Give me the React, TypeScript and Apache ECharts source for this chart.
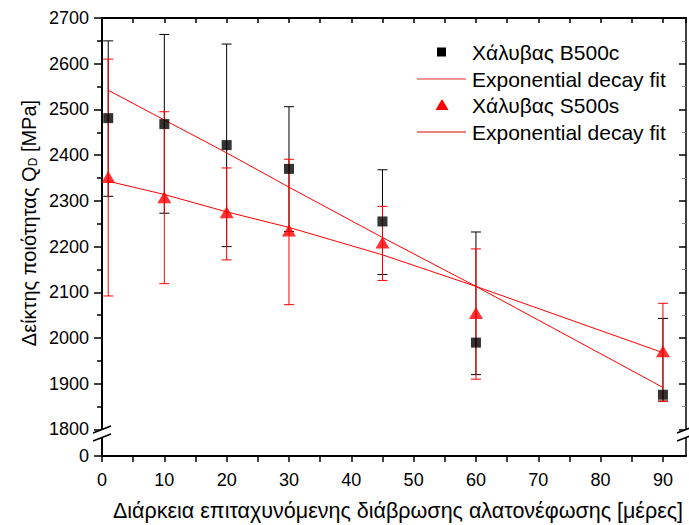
import React, { useEffect, useRef } from "react";
import * as echarts from "echarts";

const days = [1, 10, 20, 30, 45, 60, 90];
const b500c = [2481, 2468, 2422, 2370, 2255, 1990, 1876];
const b500cHigh = [2650, 2664, 2643, 2506, 2368, 2232, 2043];
const b500cLow = [2310, 2273, 2200, 2233, 2139, 1920, 1862];
const s500s = [2352, 2308, 2275, 2235, 2209, 2055, 1971];
const s500sHigh = [2610, 2495, 2372, 2391, 2288, 2195, 2076];
const s500sLow = [2092, 2119, 2171, 2073, 2126, 1910, 1862];
const fitB = [2542, 2477, 2405, 2330, 2220, 2113, 1892];
const fitS = [2343, 2314, 2276, 2242, 2182, 2113, 1968];

const yMajor = [1800, 1900, 2000, 2100, 2200, 2300, 2400, 2500, 2600, 2700];
const yMinor = [1850, 1950, 2050, 2150, 2250, 2350, 2450, 2550, 2650];
const yBreakValue = 1742; // position of the "0" label below the axis break

const FONT = "Liberation Sans, Arial, sans-serif";

const errRender = (color: string) => (params: any, api: any) => {
  const x = api.value(0);
  const lo = api.value(1);
  const hi = api.value(2);
  const pHi = api.coord([x, hi]);
  const pLo = api.coord([x, lo]);
  const w = 5;
  const st = { stroke: color, lineWidth: 1 };
  return {
    type: "group",
    children: [
      { type: "line", shape: { x1: pHi[0], y1: pHi[1], x2: pLo[0], y2: pLo[1] }, style: st },
      { type: "line", shape: { x1: pHi[0] - w, y1: pHi[1], x2: pHi[0] + w, y2: pHi[1] }, style: st },
      { type: "line", shape: { x1: pLo[0] - w, y1: pLo[1], x2: pLo[0] + w, y2: pLo[1] }, style: st },
    ],
  };
};

export default function App() {
  const ref = useRef<HTMLDivElement>(null);
  useEffect(() => {
    document.body.style.margin = "0";
    const chart = echarts.init(ref.current!, null, { renderer: "svg" });
    const xMin = 0;
    const xMax = 93.7;
    const yAxisBase = {
      type: "value",
      min: yBreakValue,
      max: 2700,
      splitLine: { show: false },
    };
    const xAxisBase = {
      type: "value",
      min: xMin,
      max: xMax,
      interval: 5,
      splitLine: { show: false },
    };
    const grid = { left: 102, right: 3, top: 18, bottom: 69 };
    const legendY = [52, 79, 105, 132];
    const option: any = {
      animation: false,
      textStyle: { fontFamily: FONT },
      grid,
      xAxis: [
        {
          ...xAxisBase,
          position: "bottom",
          axisLine: { lineStyle: { color: "#000", width: 2 } },
          axisTick: { show: true, length: 6, inside: false, lineStyle: { color: "#000", width: 1.5 } },
          axisLabel: {
            show: true,
            margin: 15,
            fontSize: 18,
            color: "#000",
            fontFamily: FONT,
            showMaxLabel: false,
            formatter: (v: number) => (v % 10 === 0 ? String(v) : ""),
          },
        },
        {
          ...xAxisBase,
          position: "top",
          axisLine: { lineStyle: { color: "#000", width: 2 } },
          axisTick: { show: true, length: 5, inside: true, lineStyle: { color: "#000", width: 1.5 } },
          axisLabel: { show: false },
        },
      ],
      yAxis: [
        {
          ...yAxisBase,
          position: "left",
          axisLine: { show: true, lineStyle: { color: "#000", width: 2 } },
          axisTick: {
            show: true,
            length: 8,
            inside: false,
            customValues: [yBreakValue, ...yMajor],
            lineStyle: { color: "#000", width: 1.5 },
          },
          axisLabel: {
            show: true,
            margin: 13,
            fontSize: 18,
            color: "#000",
            fontFamily: FONT,
            customValues: [yBreakValue, ...yMajor],
            formatter: (v: number) => (v === yBreakValue ? "0" : String(v)),
          },
        },
        {
          ...yAxisBase,
          position: "left",
          axisLine: { show: false },
          axisTick: {
            show: true,
            length: 5,
            inside: false,
            customValues: yMinor,
            lineStyle: { color: "#000", width: 1.5 },
          },
          axisLabel: { show: false },
        },
        {
          ...yAxisBase,
          position: "right",
          axisLine: { show: true, lineStyle: { color: "#000", width: 1.5 } },
          axisTick: {
            show: true,
            length: 7,
            inside: true,
            customValues: yMajor,
            lineStyle: { color: "#000", width: 1.5 },
          },
          axisLabel: { show: false },
        },
        {
          ...yAxisBase,
          position: "right",
          axisLine: { show: false },
          axisTick: {
            show: true,
            length: 4,
            inside: true,
            customValues: yMinor,
            lineStyle: { color: "#888", width: 1 },
          },
          axisLabel: { show: false },
        },
      ],
      series: [
        {
          type: "custom",
          name: "errB",
          renderItem: errRender("#000"),
          encode: { x: 0, y: [1, 2] },
          data: days.map((d, i) => [d, b500cLow[i], b500cHigh[i]]),
          z: 2,
        },
        {
          type: "custom",
          name: "errS",
          renderItem: errRender("#ff0000"),
          encode: { x: 0, y: [1, 2] },
          data: days.map((d, i) => [d, s500sLow[i], s500sHigh[i]]),
          z: 3,
        },
        {
          type: "line",
          name: "fitB",
          data: days.map((d, i) => [d, fitB[i]]),
          showSymbol: false,
          lineStyle: { color: "#ff0000", width: 1 },
          z: 4,
        },
        {
          type: "line",
          name: "fitS",
          data: days.map((d, i) => [d, fitS[i]]),
          showSymbol: false,
          lineStyle: { color: "#ff0000", width: 1 },
          z: 4,
        },
        {
          type: "scatter",
          name: "Χάλυβας B500c",
          data: days.map((d, i) => [d, b500c[i]]),
          symbol: "rect",
          symbolSize: 10,
          itemStyle: { color: "#000" },
          z: 5,
        },
        {
          type: "scatter",
          name: "Χάλυβας S500s",
          data: days.map((d, i) => [d, s500s[i]]),
          symbol: "triangle",
          symbolSize: [14, 12],
          itemStyle: { color: "#ff0000" },
          z: 6,
        },
      ],
      graphic: [
        // axis break marks (left)
        { type: "polygon", shape: { points: [[94, 433], [111, 426], [111, 434], [94, 441]] }, style: { fill: "#fff" }, z: 100 },
        { type: "line", shape: { x1: 93, y1: 433, x2: 111, y2: 426 }, style: { stroke: "#000", lineWidth: 1.5 }, z: 101 },
        { type: "line", shape: { x1: 93, y1: 441, x2: 111, y2: 434 }, style: { stroke: "#000", lineWidth: 1.5 }, z: 101 },
        // axis break marks (right)
        { type: "polygon", shape: { points: [[678, 433], [695, 426], [695, 434], [678, 441]] }, style: { fill: "#fff" }, z: 100 },
        { type: "line", shape: { x1: 677, y1: 433, x2: 695, y2: 426 }, style: { stroke: "#000", lineWidth: 1.5 }, z: 101 },
        { type: "line", shape: { x1: 677, y1: 441, x2: 695, y2: 434 }, style: { stroke: "#000", lineWidth: 1.5 }, z: 101 },
        // legend
        { type: "rect", shape: { x: 437, y: legendY[0] - 4.5, width: 9, height: 9 }, style: { fill: "#000" }, z: 50 },
        { type: "line", shape: { x1: 417, y1: legendY[1], x2: 466, y2: legendY[1] }, style: { stroke: "#f07070", lineWidth: 1.5 }, z: 50 },
        { type: "polygon", shape: { points: [[442, legendY[2] - 6], [448.5, legendY[2] + 5], [435.5, legendY[2] + 5]] }, style: { fill: "#ff0000" }, z: 50 },
        { type: "line", shape: { x1: 417, y1: legendY[3], x2: 466, y2: legendY[3] }, style: { stroke: "#e00000", lineWidth: 1 }, z: 50 },
        ...["Χάλυβας B500c", "Exponential decay fit", "Χάλυβας S500s", "Exponential decay fit"].map((t, i) => ({
          type: "text",
          x: 472,
          y: legendY[i],
          style: { text: t, fontSize: 21, fontFamily: FONT, fill: "#000", align: "left", verticalAlign: "middle" },
          z: 50,
        })),
        // axis titles
        {
          type: "text",
          x: 398,
          y: 511,
          style: {
            text: "Διάρκεια επιταχυνόμενης διάβρωσης αλατονέφωσης [μέρες]",
            fontSize: 21.5,
            fontFamily: FONT,
            fill: "#000",
            align: "center",
            verticalAlign: "middle",
          },
        },
        {
          type: "text",
          x: 27,
          y: 223,
          rotation: Math.PI / 2,
          style: {
            text: "{a|Δείκτης ποιότητας Q}{s|D}{a| [MPa]}",
            align: "center",
            verticalAlign: "middle",
            rich: {
              a: { fontSize: 20, fontFamily: FONT, fill: "#000", verticalAlign: "bottom", lineHeight: 24 },
              s: { fontSize: 12, fontFamily: FONT, fill: "#000", verticalAlign: "bottom", lineHeight: 12 },
            },
          },
        },
      ],
    };
    chart.setOption(option);
    return () => chart.dispose();
  }, []);
  return <div ref={ref} style={{ width: 689, height: 525 }} />;
}
